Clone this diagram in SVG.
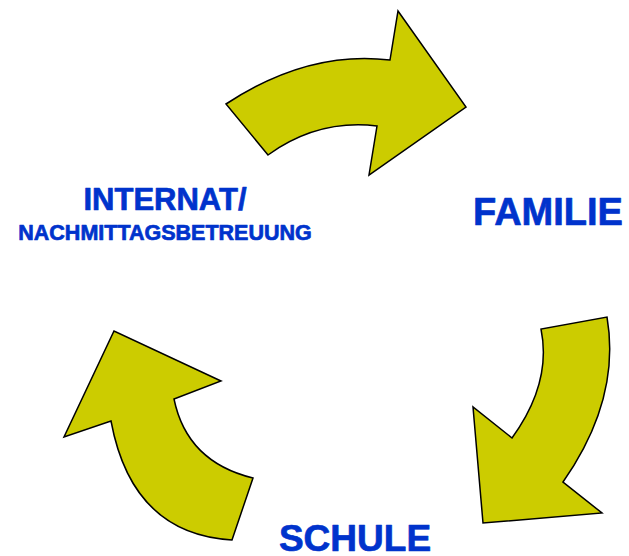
<svg xmlns="http://www.w3.org/2000/svg" width="629" height="556" viewBox="0 0 629 556">
<style>
.arrow{fill:#CCCC00;stroke:#000;stroke-width:1.5;stroke-linejoin:miter}
.lbl{font-family:"Liberation Sans",Arial,sans-serif;font-weight:bold;fill:#0033CC;stroke:#0033CC;stroke-width:0.7;stroke-linejoin:round;text-anchor:middle}
</style>
<rect width="629" height="556" fill="#fff"/>
<g id="connectors">
<path id="arrow-top" class="arrow" d="M226,104 Q308,50 390,60 L398,11 L466,107 L369,175 L377,126 Q318,119 268,155 Z"/>
<path id="arrow-right" class="arrow" d="M607,317 Q621,399 563,482 L602,513 L483,523 L473,407 L512,438 Q552,383 541,329 Z"/>
<path id="arrow-left" class="arrow" d="M232,540 Q132,534 111,421 L64,437 L114,331 L221,381 L174,399 Q187,462 253,478 Z"/>
</g>
<g id="node-internat">
<text class="lbl" x="165" y="210" font-size="31">INTERNAT/</text>
<text class="lbl" x="165" y="240" font-size="21.5">NACHMITTAGSBETREUUNG</text>
</g>
<g id="node-familie">
<text class="lbl" x="548" y="225" font-size="38">FAMILIE</text>
</g>
<g id="node-schule">
<text class="lbl" x="355" y="551" font-size="37">SCHULE</text>
</g>
</svg>
